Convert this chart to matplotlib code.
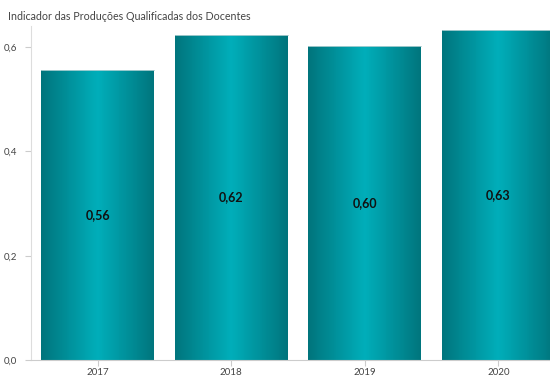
import numpy as np
import matplotlib
matplotlib.use("Agg")
import matplotlib.pyplot as plt
from matplotlib.colors import LinearSegmentedColormap

plt.rcParams['font.family'] = ['Lato', 'DejaVu Sans']

categories = ["2017", "2018", "2019", "2020"]
values = [0.556, 0.623, 0.602, 0.633]
labels = ["0,56", "0,62", "0,60", "0,63"]
yticks = [0.0, 0.2, 0.4, 0.6]
yticklabels = ["0,0", "0,2", "0,4", "0,6"]
title = "Indicador das Produções Qualificadas dos Docentes"

fig = plt.figure(figsize=(5.5, 3.76), dpi=100)
ax = fig.add_axes([31/550, 16/376, 534/550, 0.8877])

cmap = LinearSegmentedColormap.from_list("teal", ["#00747c", "#00aeba", "#00747c"])
width = 0.85
nslice = 120
fr = (np.arange(nslice) + 0.5) / nslice
cols = cmap(fr)
for i, v in enumerate(values):
    xs = i - width/2 + fr * width
    ax.bar(xs, [v] * nslice, width=width/nslice * 1.02, color=cols, linewidth=0, zorder=2)
    ax.plot([i - width/2, i + width/2], [v, v], color="#b5d3d5", lw=0.6, zorder=3)
    ax.text(i, v/2, labels[i], ha='center', va='center', fontsize=9, fontweight='bold', color='#111111', zorder=4)

ax.set_xlim(-0.5, 3.5)
ax.set_ylim(0, 0.64)
ax.set_xticks(range(len(categories)))
ax.set_xticklabels(categories)
ax.set_yticks(yticks)
ax.set_yticklabels(yticklabels)
ax.tick_params(axis='both', labelsize=7, colors='#cccccc', labelcolor='#444444', length=4, width=0.8)
ax.tick_params(axis='y', pad=6)
ax.tick_params(axis='x', pad=2)
for s in ['top', 'right']:
    ax.spines[s].set_visible(False)
ax.spines['left'].set_color('#dddddd')
ax.spines['bottom'].set_color('#cccccc')
fig.text(8/550, 1 - 17/376, title, fontsize=7.7, color='#444444', va='center', ha='left')

fig.savefig("out.png", dpi=100)
